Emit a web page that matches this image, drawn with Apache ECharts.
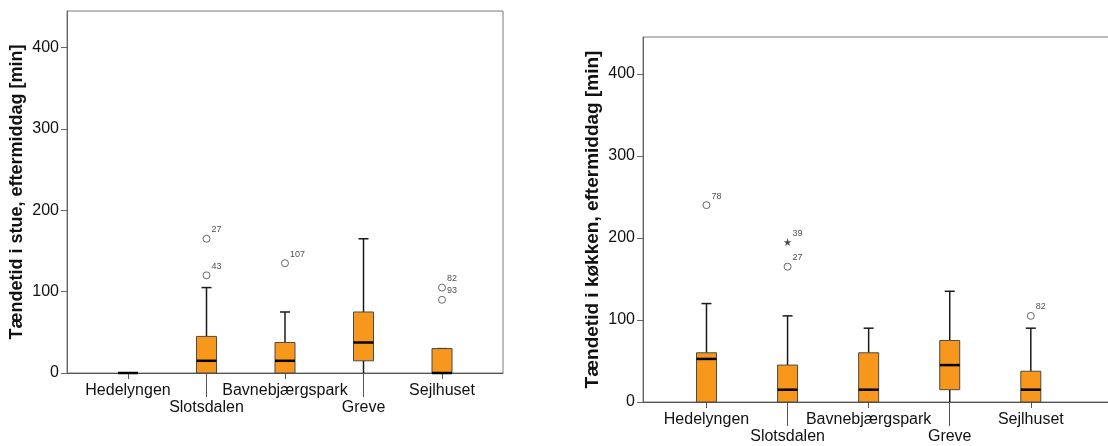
<!DOCTYPE html>
<html>
<head>
<meta charset="utf-8">
<script src="https://cdn.jsdelivr.net/npm/echarts@6/dist/echarts.min.js"></script>
<style>
  html, body { margin: 0; padding: 0; background: #fff; }
  #chart { width: 1108px; height: 446px; }
</style>
</head>
<body>
<div id="chart"></div>
<script>
// groups on the x axis (shared by both panels)
const categories = ['Hedelyngen', 'Slotsdalen', 'Bavnebjærgspark', 'Greve', 'Sejlhuset'];
const yTicks = [0, 100, 200, 300, 400];

// stue, eftermiddag: five-number summary per group
const stueMin = [0, 0, 0, 0, 0];
const stueQ1 = [0, 0, 0, 15, 0];
const stueMedian = [0, 15, 15, 37.5, 0];
const stueQ3 = [0, 45, 37.5, 75, 30];
const stueMax = [0, 105, 75, 165, 30];
// outliers: [group index, value, case number]
const stueOutliers = [[1, 165, '27'], [1, 120, '43'], [2, 135, '107'], [4, 105, '82'], [4, 90, '93']];
const stueExtremes = [];

// køkken, eftermiddag
const kokkenMin = [0, 0, 0, 0, 0];
const kokkenQ1 = [0, 0, 0, 15, 0];
const kokkenMedian = [52.5, 15, 15, 45, 15];
const kokkenQ3 = [60, 45, 60, 75, 37.5];
const kokkenMax = [120, 105, 90, 135, 90];
const kokkenOutliers = [[0, 240, '78'], [1, 165, '27'], [4, 105, '82']];
const kokkenExtremes = [[1, 195, '39']];

const FONT = '"Liberation Sans", Arial, sans-serif';
const STAR = 'path://M50,0 L61,35 L98,35 L68,57 L79,91 L50,70 L21,91 L32,57 L2,35 L39,35 Z';

const chart = echarts.init(document.getElementById('chart'));

function boxData(mn, q1, med, q3, mx) {
  return categories.map((c, i) => [i, mn[i], q1[i], med[i], q3[i], mx[i]]);
}

// SPSS-like box: orange box, thick median, narrow whisker caps
function renderBox(params, api) {
  const x = api.value(0);
  const top = api.coord([x, api.value(5)]);
  const q3 = api.coord([x, api.value(4)]);
  const med = api.coord([x, api.value(3)]);
  const q1 = api.coord([x, api.value(2)]);
  const bot = api.coord([x, api.value(1)]);
  const cx = top[0];
  const whisker = { stroke: '#1a1a1a', lineWidth: 1.5 };
  return {
    type: 'group',
    children: [
      { type: 'line', shape: { x1: cx, y1: top[1], x2: cx, y2: q3[1] }, style: whisker },
      { type: 'line', shape: { x1: cx - 5, y1: top[1], x2: cx + 5, y2: top[1] }, style: whisker },
      { type: 'line', shape: { x1: cx, y1: q1[1], x2: cx, y2: bot[1] }, style: whisker },
      { type: 'rect', shape: { x: cx - 10, y: q3[1], width: 20, height: q1[1] - q3[1] },
        style: { fill: '#F7981D', stroke: '#4a4a4a', lineWidth: 1 } },
      { type: 'line', shape: { x1: cx - 10, y1: med[1], x2: cx + 10, y2: med[1] },
        style: { stroke: '#000', lineWidth: 2.5 } }
    ]
  };
}

const pointLabel = {
  show: true,
  position: 'right',
  distance: 1,
  offset: [0, -9],
  formatter: p => p.value[2],
  fontFamily: FONT,
  fontSize: 9,
  color: '#222'
};

// two x axes per panel: first label row with short ticks, second row with long ticks
function xAxes(gridIndex, min, max) {
  const label = { fontFamily: FONT, fontSize: 16, color: '#111', formatter: v => categories[v] };
  return [
    {
      type: 'value', gridIndex, min, max, position: 'bottom',
      splitLine: { show: false },
      axisLine: { show: true, onZero: false, lineStyle: { color: '#555', width: 1 } },
      axisTick: { show: true, length: 6, customValues: [0, 2, 4], lineStyle: { color: '#555' } },
      axisLabel: { ...label, customValues: [0, 2, 4], margin: 10 }
    },
    {
      type: 'value', gridIndex, min, max, position: 'bottom',
      splitLine: { show: false },
      axisLine: { show: false, onZero: false },
      axisTick: { show: true, length: 24, customValues: [1, 3], lineStyle: { color: '#555' } },
      axisLabel: { ...label, customValues: [1, 3], margin: 27 }
    }
  ];
}

function yAxis(gridIndex, name, nameSize) {
  return {
    type: 'value', gridIndex, min: 0, max: 445,
    name, nameLocation: 'middle', nameGap: 41,
    nameTextStyle: { fontFamily: FONT, fontSize: nameSize, fontWeight: 'bold', color: '#111' },
    splitLine: { show: false },
    axisLine: { show: true, onZero: false, lineStyle: { color: '#666' } },
    axisTick: { show: true, length: 6, customValues: yTicks, lineStyle: { color: '#666' } },
    axisLabel: { customValues: yTicks, fontFamily: FONT, fontSize: 16, color: '#111', margin: 8 }
  };
}

function panelSeries(xIdx, yIdx, boxes, outliers, extremes) {
  return [
    {
      type: 'custom', xAxisIndex: xIdx, yAxisIndex: yIdx,
      renderItem: renderBox, data: boxes,
      encode: { x: 0, y: [1, 2, 3, 4, 5] }, z: 3
    },
    {
      type: 'scatter', xAxisIndex: xIdx, yAxisIndex: yIdx,
      symbol: 'circle', symbolSize: 7,
      itemStyle: { color: '#fff', borderColor: '#444', borderWidth: 1 },
      label: pointLabel, data: outliers, z: 4
    },
    {
      type: 'scatter', xAxisIndex: xIdx, yAxisIndex: yIdx,
      symbol: STAR, symbolSize: 8,
      itemStyle: { color: '#222' },
      label: pointLabel, data: extremes, z: 4
    }
  ];
}

const option = {
  animation: false,
  grid: [
    { left: 67, right: 605, top: 11, bottom: 73, show: true, borderColor: '#7a7a7a', borderWidth: 1,
      outerBoundsMode: 'none' },
    { left: 643, right: -12, top: 37, bottom: 44, show: true, borderColor: '#7a7a7a', borderWidth: 1,
      outerBoundsMode: 'none' }
  ],
  xAxis: [
    ...xAxes(0, -0.777, 4.777),
    ...xAxes(1, -0.783, 5.1)
  ],
  yAxis: [
    yAxis(0, 'Tændetid i stue, eftermiddag [min]', 18),
    yAxis(1, 'Tændetid i køkken, eftermiddag [min]', 19)
  ],
  series: [
    ...panelSeries(0, 0, boxData(stueMin, stueQ1, stueMedian, stueQ3, stueMax), stueOutliers, stueExtremes),
    ...panelSeries(2, 1, boxData(kokkenMin, kokkenQ1, kokkenMedian, kokkenQ3, kokkenMax), kokkenOutliers, kokkenExtremes)
  ]
};

chart.setOption(option);
</script>
</body>
</html>
